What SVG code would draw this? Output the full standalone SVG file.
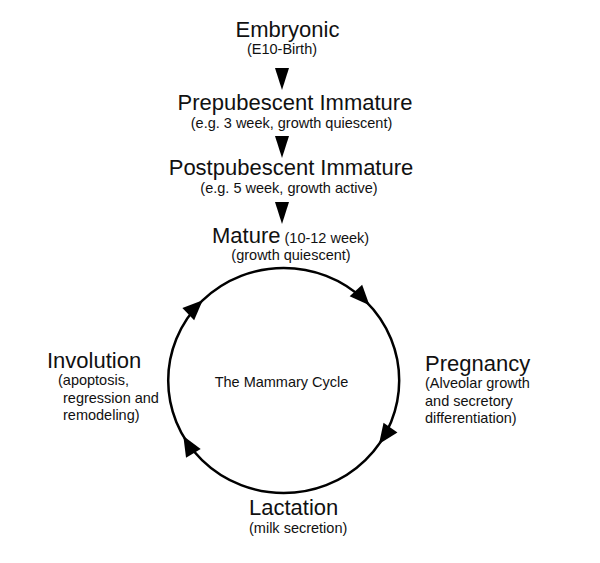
<svg xmlns="http://www.w3.org/2000/svg" xmlns:xlink="http://www.w3.org/1999/xlink" width="600" height="563" viewBox="0 0 600 563">
<style>
text{font-family:"Liberation Sans",Arial,sans-serif;fill:#111}
.t{font-size:22px}
.s{font-size:14.5px}
.m{text-anchor:middle}
</style>
<defs>
<path id="ah" d="M0,0 L-20,-8.5 L-20,8.5 Z" fill="#000"/>
<path id="dn" d="M0,0 L-7,-22 L7,-22 Z" fill="#000"/>
</defs>
<rect width="600" height="563" fill="#fff"/>
<g id="connectors">
<use xlink:href="#dn" transform="translate(282,90)"/>
<use xlink:href="#dn" transform="translate(282,158)"/>
<use xlink:href="#dn" transform="translate(282,224)"/>
<ellipse cx="283.7" cy="380.5" rx="115.5" ry="112.5" fill="none" stroke="#000" stroke-width="2.5"/>
<use xlink:href="#ah" transform="translate(369.5,305.2) rotate(47.2)"/>
<use xlink:href="#ah" transform="translate(379,444.1) rotate(125.1)"/>
<use xlink:href="#ah" transform="translate(183.3,436.1) rotate(239.8)"/>
<use xlink:href="#ah" transform="translate(202.7,300.3) rotate(-43.8)"/>
</g>
<g id="embryonic">
<text class="t m" x="287.5" y="37">Embryonic</text>
<text class="s m" x="282" y="54">(E10-Birth)</text>
</g>
<g id="prepubescent">
<text class="t m" x="295" y="110">Prepubescent Immature</text>
<text class="s m" x="291.5" y="128">(e.g. 3 week, growth quiescent)</text>
</g>
<g id="postpubescent">
<text class="t m" x="291" y="175">Postpubescent Immature</text>
<text class="s m" x="289" y="193">(e.g. 5 week, growth active)</text>
</g>
<g id="mature">
<text x="212" y="243"><tspan class="t">Mature</tspan><tspan class="s"> (10-12 week)</tspan></text>
<text class="s m" x="291" y="260">(growth quiescent)</text>
</g>
<g id="cycle">
<text class="s m" x="281.5" y="387">The Mammary Cycle</text>
</g>
<g id="pregnancy">
<text class="t" x="425" y="371">Pregnancy</text>
<text class="s" x="425" y="388">(Alveolar growth</text>
<text class="s" x="425" y="406">and secretory</text>
<text class="s" x="425" y="423">differentiation)</text>
</g>
<g id="lactation">
<text class="t" x="249" y="515">Lactation</text>
<text class="s" x="249" y="533">(milk secretion)</text>
</g>
<g id="involution">
<text class="t" x="47" y="368">Involution</text>
<text class="s" x="58" y="385">(apoptosis,</text>
<text class="s" x="63" y="403">regression and</text>
<text class="s" x="63" y="420">remodeling)</text>
</g>
</svg>
